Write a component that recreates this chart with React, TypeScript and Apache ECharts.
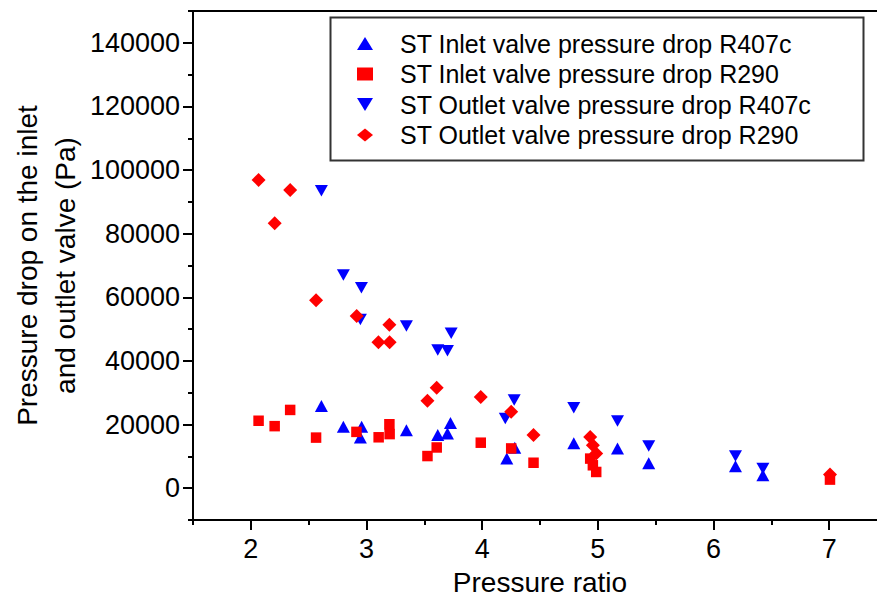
import React, { useEffect, useRef } from "react";
import * as echarts from "echarts";

const FONT = "'Liberation Sans', Arial, Helvetica, sans-serif";

const xTickValues = [2, 3, 4, 5, 6, 7];
const xMinorTickValues = [1.5, 2.5, 3.5, 4.5, 5.5, 6.5, 7.5];
const yTickValues = [0, 20000, 40000, 60000, 80000, 100000, 120000, 140000];
const yMinorTickValues = [-10000, 10000, 30000, 50000, 70000, 90000, 110000, 130000, 150000];

const seriesNames = [
  "ST Inlet valve pressure drop R407c",
  "ST Inlet valve pressure drop R290",
  "ST Outlet valve pressure drop R407c",
  "ST Outlet valve pressure drop R290",
];

const inletR407cX = [2.61, 2.8, 2.958, 2.947, 3.345, 3.616, 3.7, 3.726, 4.213, 4.282, 4.792, 5.17, 5.44, 6.19, 6.427];
const inletR407cY = [25800, 19300, 19300, 15900, 18200, 16700, 17200, 20500, 9300, 12700, 14100, 12500, 7800, 6900, 4100];

const inletR290X = [2.067, 2.206, 2.34, 2.564, 2.913, 3.105, 3.198, 3.2, 3.527, 3.607, 3.988, 4.251, 4.444, 4.934, 4.957, 4.986, 7.007];
const inletR290Y = [21200, 19500, 24600, 15900, 17700, 16000, 20100, 17000, 10100, 12800, 14300, 12500, 8000, 9300, 7200, 5100, 2700];

const outletR407cX = [2.61, 2.8, 2.956, 2.947, 3.345, 3.616, 3.7, 3.732, 4.2, 4.277, 4.792, 5.17, 5.44, 6.19, 6.427];
const outletR407cY = [93500, 67000, 63000, 53000, 51000, 43400, 43200, 48700, 21900, 27700, 25300, 21100, 13300, 10100, 6200];

const outletR290X = [2.067, 2.206, 2.34, 2.564, 2.915, 3.103, 3.198, 3.2, 3.527, 3.607, 3.988, 4.251, 4.444, 4.934, 4.957, 4.986, 7.007];
const outletR290Y = [96900, 83300, 93700, 59100, 54100, 45900, 51400, 45900, 27500, 31600, 28700, 24000, 16700, 16100, 13500, 10900, 4300];

const zip = (xs: number[], ys: number[]) => xs.map((x, i) => [x, ys[i]]);

export default function App() {
  const ref = useRef<HTMLDivElement>(null);

  useEffect(() => {
    if (!ref.current) return;
    const chart = echarts.init(ref.current, undefined, { renderer: "svg" });

    const axisLineStyle = { color: "#000", width: 2 };
    const tickLine = { color: "#000", width: 2 };
    const plain = (v: number) => String(v);

    const option: any = {
      animation: false,
      backgroundColor: "#fff",
      grid: {
        left: 193,
        right: -10,
        top: 11,
        bottom: 77,
        containLabel: false,
        outerBoundsMode: "none",
        show: true,
        borderColor: "#000",
        borderWidth: 2,
        backgroundColor: "transparent",
      },
      legend: {
        orient: "vertical",
        left: 357,
        top: 31,
        padding: 0,
        itemWidth: 16,
        itemHeight: 13,
        itemGap: 5.5,
        symbolKeepAspect: false,
        data: seriesNames,
        textStyle: {
          fontSize: 25,
          color: "#000",
          fontFamily: FONT,
          padding: [0, 0, 0, 22],
        },
      },
      graphic: [
        {
          type: "rect",
          left: 328,
          top: 15,
          shape: { width: 533, height: 143 },
          style: { fill: "none", stroke: "#333", lineWidth: 2 },
          silent: true,
        },
      ],
      xAxis: [
        {
          type: "value",
          min: 1.5,
          max: 7.5,
          position: "bottom",
          name: "Pressure ratio",
          nameLocation: "middle",
          nameGap: 48,
          nameMoveOverlap: false,
          nameTextStyle: { fontSize: 28, color: "#000", fontFamily: FONT },
          axisLine: { show: true, onZero: false, lineStyle: axisLineStyle },
          axisTick: { show: true, inside: false, length: 10, lineStyle: tickLine, customValues: xTickValues },
          axisLabel: { customValues: xTickValues, formatter: plain, fontSize: 27, color: "#000", fontFamily: FONT, margin: 15 },
          splitLine: { show: false },
        },
        {
          type: "value",
          min: 1.5,
          max: 7.5,
          position: "bottom",
          axisLine: { show: false, onZero: false },
          axisTick: { show: true, inside: false, length: 5, lineStyle: tickLine, customValues: xMinorTickValues },
          axisLabel: { show: false },
          splitLine: { show: false },
        },
      ],
      yAxis: [
        {
          type: "value",
          min: -10000,
          max: 150000,
          position: "left",
          name: "Pressure drop on the inlet\nand outlet valve (Pa)",
          nameLocation: "middle",
          nameRotate: 90,
          nameGap: 109,
          nameMoveOverlap: false,
          nameTextStyle: { fontSize: 28, lineHeight: 38, color: "#000", fontFamily: FONT, align: "center" },
          axisLine: { show: true, onZero: false, lineStyle: axisLineStyle },
          axisTick: { show: true, inside: false, length: 10, lineStyle: tickLine, customValues: yTickValues },
          axisLabel: { customValues: yTickValues, formatter: plain, fontSize: 27, color: "#000", fontFamily: FONT, margin: 13 },
          splitLine: { show: false },
        },
        {
          type: "value",
          min: -10000,
          max: 150000,
          position: "left",
          axisLine: { show: false, onZero: false },
          axisTick: { show: true, inside: false, length: 5, lineStyle: tickLine, customValues: yMinorTickValues },
          axisLabel: { show: false },
          splitLine: { show: false },
        },
      ],
      series: [
        {
          name: seriesNames[0],
          type: "scatter",
          symbol: "triangle",
          symbolSize: [13, 12],
          itemStyle: { color: "#0000ff", opacity: 1 },
          data: zip(inletR407cX, inletR407cY),
        },
        {
          name: seriesNames[1],
          type: "scatter",
          symbol: "rect",
          symbolSize: 10.5,
          itemStyle: { color: "#ff0000", opacity: 1 },
          data: zip(inletR290X, inletR290Y),
        },
        {
          name: seriesNames[2],
          type: "scatter",
          symbol: "path://M0,0L20,0L10,17Z",
          symbolSize: [13, 11.5],
          itemStyle: { color: "#0000ff", opacity: 1 },
          data: zip(outletR407cX, outletR407cY),
        },
        {
          name: seriesNames[3],
          type: "scatter",
          symbol: "diamond",
          symbolSize: [14, 14],
          itemStyle: { color: "#ff0000", opacity: 1 },
          data: zip(outletR290X, outletR290Y),
        },
      ],
    };

    chart.setOption(option);
    return () => chart.dispose();
  }, []);

  return (
    <div
      ref={ref}
      style={{ position: "absolute", left: 0, top: 0, width: 877, height: 597 }}
    />
  );
}
